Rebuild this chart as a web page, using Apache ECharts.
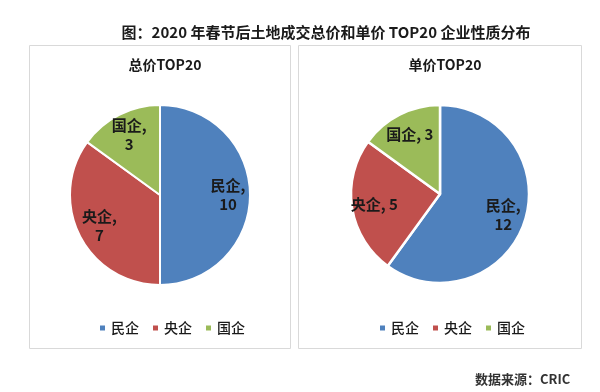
<!DOCTYPE html>
<html><head><meta charset="utf-8">
<script src="https://cdn.jsdelivr.net/npm/echarts@6/dist/echarts.min.js"></script>
<style>html,body{margin:0;padding:0;background:#fff}#c{width:600px;height:392px}</style>
</head><body><div id="c"></div>
<script>
const categories = ['民企', '央企', '国企'];
const totalValues = [10, 7, 3];
const unitValues = [12, 5, 3];
const colors = ['#4F81BD', '#C0504D', '#9BBB59'];
const mainTitle = '图：2020 年春节后土地成交总价和单价 TOP20 企业性质分布';
const panelTitles = ['总价TOP20', '单价TOP20'];
const sourceText = '数据来源：CRIC';
// label separators per item (two-line vs one-line)
const totalSep = [',\n', ',\n', ',\n'];
const unitSep = [',\n', ', ', ', '];

const FONT = '"Noto Sans CJK SC", "Noto Sans", sans-serif';
const chart = echarts.init(document.getElementById('c'));

function pieData(vals) {
  return categories.map((n, i) => ({ name: n, value: vals[i], itemStyle: { color: colors[i] } }));
}
function labelData(vals, seps) {
  return categories.map((n, i) => ({
    name: n, value: vals[i],
    label: { formatter: '{b}' + seps[i] + '{c}' }
  }));
}
const baseLabel = { show: true, position: 'inside', color: '#1a1a1a', fontSize: 15, fontWeight: 'bold', fontFamily: FONT, lineHeight: 19 };
const legendStyle = { fontFamily: FONT, fontSize: 14, fontWeight: 500, color: '#1a1a1a' };

chart.setOption({
  animation: false,
  color: colors,
  title: [
    { text: mainTitle, left: 321, top: 20, textAlign: 'center', textStyle: { fontFamily: FONT, fontSize: 15, fontWeight: 'bold', color: '#1a1a1a' } },
    { text: panelTitles[0], left: 160, top: 53, textAlign: 'center', textStyle: { fontFamily: FONT, fontSize: 14, fontWeight: 'bold', color: '#1a1a1a' } },
    { text: panelTitles[1], left: 440, top: 53, textAlign: 'center', textStyle: { fontFamily: FONT, fontSize: 14, fontWeight: 'bold', color: '#1a1a1a' } },
    { text: sourceText, left: 470, top: 368, textStyle: { fontFamily: FONT, fontSize: 13, fontWeight: 'bold', color: '#333' } }
  ],
  graphic: [
    { type: 'rect', shape: { x: 29.5, y: 45.5, width: 261, height: 303 }, style: { fill: 'none', stroke: '#d9d9d9', lineWidth: 1 } },
    { type: 'rect', shape: { x: 298.5, y: 45.5, width: 283, height: 303 }, style: { fill: 'none', stroke: '#d9d9d9', lineWidth: 1 } }
  ],
  legend: [
    { data: categories, left: 93, top: 316, itemWidth: 7, itemHeight: 7, itemGap: 12, icon: 'rect', textStyle: legendStyle, selectedMode: false },
    { data: categories, left: 373, top: 316, itemWidth: 7, itemHeight: 7, itemGap: 12, icon: 'rect', textStyle: legendStyle, selectedMode: false }
  ],
  series: [
    { type: 'pie', center: [160, 195], radius: [0, 90], startAngle: 90, clockwise: true, silent: true,
      data: pieData(totalValues), label: { show: false }, labelLine: { show: false },
      itemStyle: { borderColor: '#fff', borderWidth: 2 } },
    { type: 'pie', center: [160, 195], radius: [40, 90], startAngle: 90, clockwise: true, silent: true,
      data: labelData(totalValues, totalSep), itemStyle: { color: 'rgba(0,0,0,0)' }, label: baseLabel, labelLine: { show: false }, legendHoverLink: false },
    { type: 'pie', center: [440, 194], radius: [0, 89], startAngle: 90, clockwise: true, silent: true,
      data: pieData(unitValues), label: { show: false }, labelLine: { show: false },
      itemStyle: { borderColor: '#fff', borderWidth: 2.5 } },
    { type: 'pie', center: [440, 194], radius: [38, 89], startAngle: 90, clockwise: true, silent: true,
      data: labelData(unitValues, unitSep), itemStyle: { color: 'rgba(0,0,0,0)' }, label: baseLabel, labelLine: { show: false }, legendHoverLink: false }
  ]
});
</script></body></html>
